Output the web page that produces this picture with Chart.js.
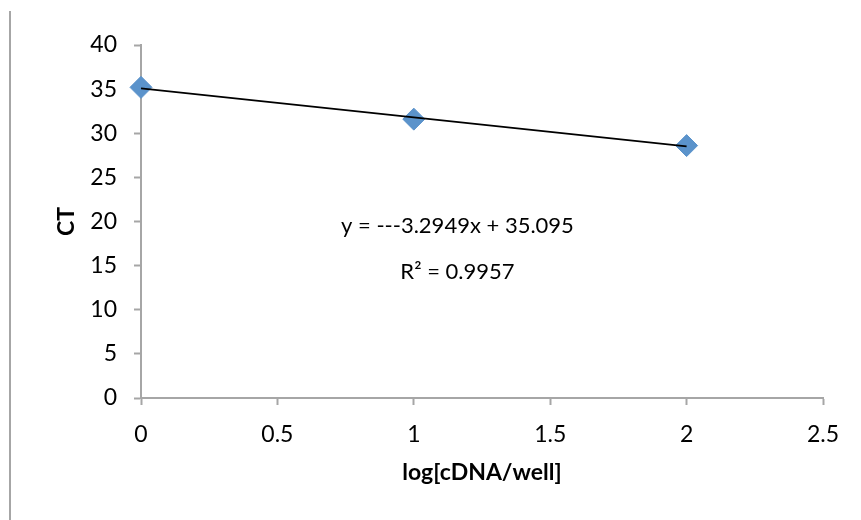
<!DOCTYPE html>
<html>
<head>
<meta charset="utf-8">
<script src="https://cdn.jsdelivr.net/npm/chart.js@4"></script>
<style>
  html, body { margin: 0; padding: 0; background: #fff; }
  #wrap { position: relative; width: 861px; height: 520px; }
  #edge { position: absolute; left: 9px; top: 11px; width: 2px; height: 509px; background: #a6a6a6; }
</style>
</head>
<body>
<div id="wrap">
  <div id="edge"></div>
  <canvas id="chart" width="861" height="520"></canvas>
</div>
<script>
// 数据
const xValues = [0, 1, 2];
const ctValues = [35.2, 31.6, 28.6];
// 趋势线端点（来自图中公式）
const trendX = [0, 2];
const trendY = [35.095, 28.505];
const equationText = 'y = ---3.2949x + 35.095';
const r2Text = 'R² = 0.9957';

const axisGrey = '#a6a6a6';
const fontFamily = 'Lato, "Open Sans", sans-serif';

// 公式标注
const labelPlugin = {
    id: 'trendLabel',
    afterDatasetsDraw(chart) {
        const ctx = chart.ctx;
        const x = chart.scales.x.getPixelForValue(1.16);
        ctx.save();
        ctx.fillStyle = '#000';
        ctx.font = '22px ' + fontFamily;
        ctx.textAlign = 'center';
        ctx.textBaseline = 'middle';
        ctx.fillText(equationText, x, chart.scales.y.getPixelForValue(19.5));
        ctx.fillText(r2Text, x, chart.scales.y.getPixelForValue(14.3));
        ctx.restore();
    }
};

new Chart(document.getElementById('chart'), {
    type: 'scatter',
    data: {
        datasets: [{
            type: 'line',
            data: trendX.map((x, i) => ({ x: x, y: trendY[i] })),
            borderColor: '#000',
            borderWidth: 1.8,
            pointRadius: 0,
            fill: false,
            clip: false,
            order: 0
        }, {
            data: xValues.map((x, i) => ({ x: x, y: ctValues[i] })),
            pointStyle: 'rectRot',
            pointRadius: 11,
            pointHoverRadius: 11,
            backgroundColor: '#5b93cb',
            borderColor: '#5b93cb',
            borderWidth: 1,
            clip: false,
            order: 1
        }]
    },
    options: {
        responsive: false,
        animation: false,
        layout: { padding: { left: 0, top: 45, right: 38, bottom: 0 } },
        plugins: { legend: { display: false }, tooltip: { enabled: false } },
        scales: {
            x: {
                type: 'linear',
                min: 0,
                max: 2.5,
                ticks: {
                    stepSize: 0.5,
                    color: '#000',
                    padding: 16,
                    font: { family: fontFamily, size: 23 },
                    callback: (v) => String(v)
                },
                grid: { drawOnChartArea: false, tickLength: 7, color: axisGrey, tickWidth: 2 },
                border: { color: axisGrey, width: 2 },
                title: {
                    display: true,
                    text: 'log[cDNA/well]',
                    color: '#000',
                    font: { family: fontFamily, size: 23, weight: 'bold' },
                    padding: { bottom: 34 }
                },
                afterFit(scale) { scale.height = 122; }
            },
            y: {
                min: 0,
                max: 40,
                ticks: {
                    stepSize: 5,
                    color: '#000',
                    padding: 17,
                    font: { family: fontFamily, size: 23 }
                },
                grid: { drawOnChartArea: false, tickLength: 7, color: axisGrey, tickWidth: 2 },
                border: { color: axisGrey, width: 2 },
                title: {
                    display: true,
                    text: 'CT',
                    color: '#000',
                    font: { family: fontFamily, size: 23, weight: 'bold' },
                    padding: { top: 53 }
                },
                afterFit(scale) { scale.width = 141; }
            }
        }
    },
    plugins: [labelPlugin]
});
</script>
</body>
</html>
